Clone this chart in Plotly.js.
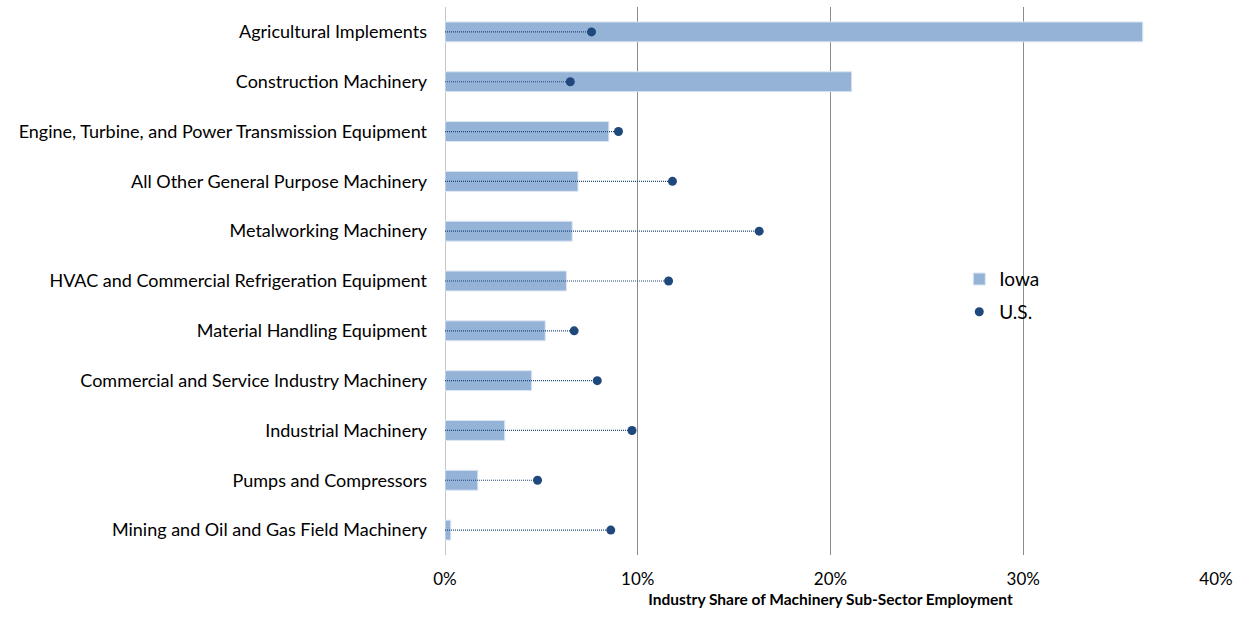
<!DOCTYPE html>
<html>
<head>
<meta charset="utf-8">
<script src="https://cdn.plot.ly/plotly-3.0.1.min.js"></script>
<style>html,body{margin:0;padding:0;background:#fff;}#chart{width:1243px;height:618px;}</style>
</head>
<body>
<div id="chart"></div>
<script>
const categories = [
  "Agricultural Implements",
  "Construction Machinery",
  "Engine, Turbine, and Power Transmission Equipment",
  "All Other General Purpose Machinery",
  "Metalworking Machinery",
  "HVAC and Commercial Refrigeration Equipment",
  "Material Handling Equipment",
  "Commercial and Service Industry Machinery",
  "Industrial Machinery",
  "Pumps and Compressors",
  "Mining and Oil and Gas Field Machinery"
];
const iowaValues = [36.2, 21.1, 8.5, 6.9, 6.6, 6.3, 5.2, 4.5, 3.1, 1.7, 0.3];
const usValues   = [7.6, 6.5, 9.0, 11.8, 16.3, 11.6, 6.7, 7.9, 9.7, 4.8, 8.6];
const tickVals = [0, 10, 20, 30, 40];
const tickText = ["0%", "10%", "20%", "30%", "40%"];

const lineX = [], lineY = [];
categories.forEach((c, i) => { lineX.push(0, usValues[i], null); lineY.push(c, c, null); });

const font = "Lato, 'Open Sans', sans-serif";
const data = [
  {type: "bar", orientation: "h", name: "Iowa", x: iowaValues, y: categories, width: 0.4,
   legendgroup: "a",
   marker: {color: "#95b3d7", line: {color: "#dce6f2", width: 1}}, hoverinfo: "x+y"},
  {type: "scatter", mode: "lines", x: lineX, y: lineY, showlegend: false, hoverinfo: "skip",
   line: {color: "#1f497d", width: 1.2, dash: "1px,1px"}},
  {type: "scatter", mode: "markers", name: "U.S.", x: usValues, y: categories, legendgroup: "b",
   marker: {color: "#1f497d", size: 9}}
];
const layout = {
  width: 1243, height: 618,
  margin: {l: 445, r: 27, t: 7, b: 63},
  paper_bgcolor: "#fff", plot_bgcolor: "#fff",
  font: {family: font, color: "#000", size: 18},
  showlegend: true,
  legend: {x: 0.667, y: 0.538, xanchor: "left", yanchor: "top", font: {size: 19, family: font},
           bgcolor: "rgba(0,0,0,0)", traceorder: "grouped", tracegroupgap: 5},
  xaxis: {range: [0, 40], tickvals: tickVals, ticktext: tickText, showgrid: true, gridcolor: "#8c8c8c", gridwidth: 1,
          zeroline: false, showline: false, ticks: "", tickfont: {size: 17}, ticklabelstandoff: 12,
          title: {text: "<b>Industry Share of Machinery Sub-Sector Employment</b>", font: {size: 15.5}, standoff: 6}},
  yaxis: {type: "category", range: [10.5, -0.5], autorange: false, showgrid: false, zeroline: false, showline: false, ticks: "",
          tickfont: {size: 18}, ticklabelstandoff: 17},
  shapes: [{type: "line", xref: "x", yref: "paper", x0: 0, x1: 0, y0: 0, y1: 1, line: {color: "#8c8c8c", width: 1}, layer: "below"}],
  bargap: 0.6
};
Plotly.newPlot("chart", data, layout, {displayModeBar: false, staticPlot: true});
</script>
</body>
</html>
